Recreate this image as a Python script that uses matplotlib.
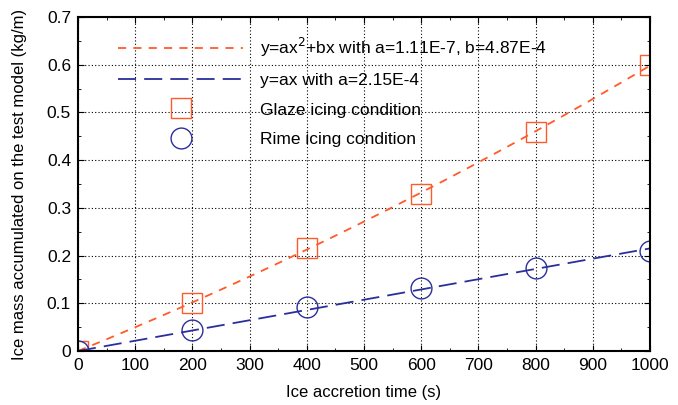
import numpy as np
import matplotlib
matplotlib.use("Agg")
import matplotlib.pyplot as plt
from matplotlib.ticker import MultipleLocator

plt.rcParams['font.family'] = ['Liberation Sans', 'DejaVu Sans']

time_s = [0, 200, 400, 600, 800, 1000]
glaze_mass = [0.0, 0.100, 0.215, 0.330, 0.460, 0.600]
rime_mass = [0.0, 0.045, 0.092, 0.133, 0.173, 0.210]
quad_a, quad_b = 1.11e-7, 4.87e-4
lin_a = 2.15e-4

orange = '#FF5A2A'
blue = '#2A2F9A'

fig = plt.figure(figsize=(6.78, 4.05), dpi=100)
ax = fig.add_axes([78/678, 1-351/405, (650-78)/678, (351-17)/405])

xf = np.linspace(0, 1000, 200)
ax.plot(xf, quad_a*xf**2 + quad_b*xf, color=orange, lw=1.3, dashes=(4.5, 4),
        label='y=ax$^2$+bx with a=1.11E-7, b=4.87E-4')
ax.plot(xf, lin_a*xf, color=blue, lw=1.3, dashes=(10, 4.5),
        label='y=ax with a=2.15E-4')
ax.plot(time_s, glaze_mass, ls='none', marker='s', ms=14.5, mfc='none',
        mec=orange, mew=1.0, label='Glaze icing condition')
ax.plot(time_s, rime_mass, ls='none', marker='o', ms=15, mfc='none',
        mec=blue, mew=1.0, label='Rime icing condition')

ax.set_xlim(0, 1000)
ax.set_ylim(0, 0.7)
ax.xaxis.set_minor_locator(MultipleLocator(50))
ax.yaxis.set_minor_locator(MultipleLocator(0.05))
ax.set_xticks(range(0, 1001, 100))
ax.set_xticklabels([str(v) for v in range(0, 1001, 100)])
ax.set_yticks(np.arange(0, 0.71, 0.1))
ax.set_yticklabels(['0'] + ['%.1f' % v for v in np.arange(0.1, 0.71, 0.1)])
ax.tick_params(which='both', direction='in', top=True, right=True, labelsize=12.5, pad=5)
ax.tick_params(which='major', length=4)
ax.tick_params(which='minor', length=2)
ax.grid(True, which='major', color='black', ls=(0, (1, 2)), lw=0.8)
for s in ax.spines.values():
    s.set_linewidth(1.5)

ax.set_xlabel('Ice accretion time (s)', fontsize=12, labelpad=9)
ax.set_ylabel('Ice mass accumulated on the test model (kg/m)', fontsize=12, labelpad=14)

leg = ax.legend(loc='upper left', bbox_to_anchor=(0.058, 0.965), frameon=False,
                fontsize=12.5, handlelength=7.2, handletextpad=1.0,
                labelspacing=0.82, borderaxespad=0)

fig.savefig('out.png', dpi=100)
